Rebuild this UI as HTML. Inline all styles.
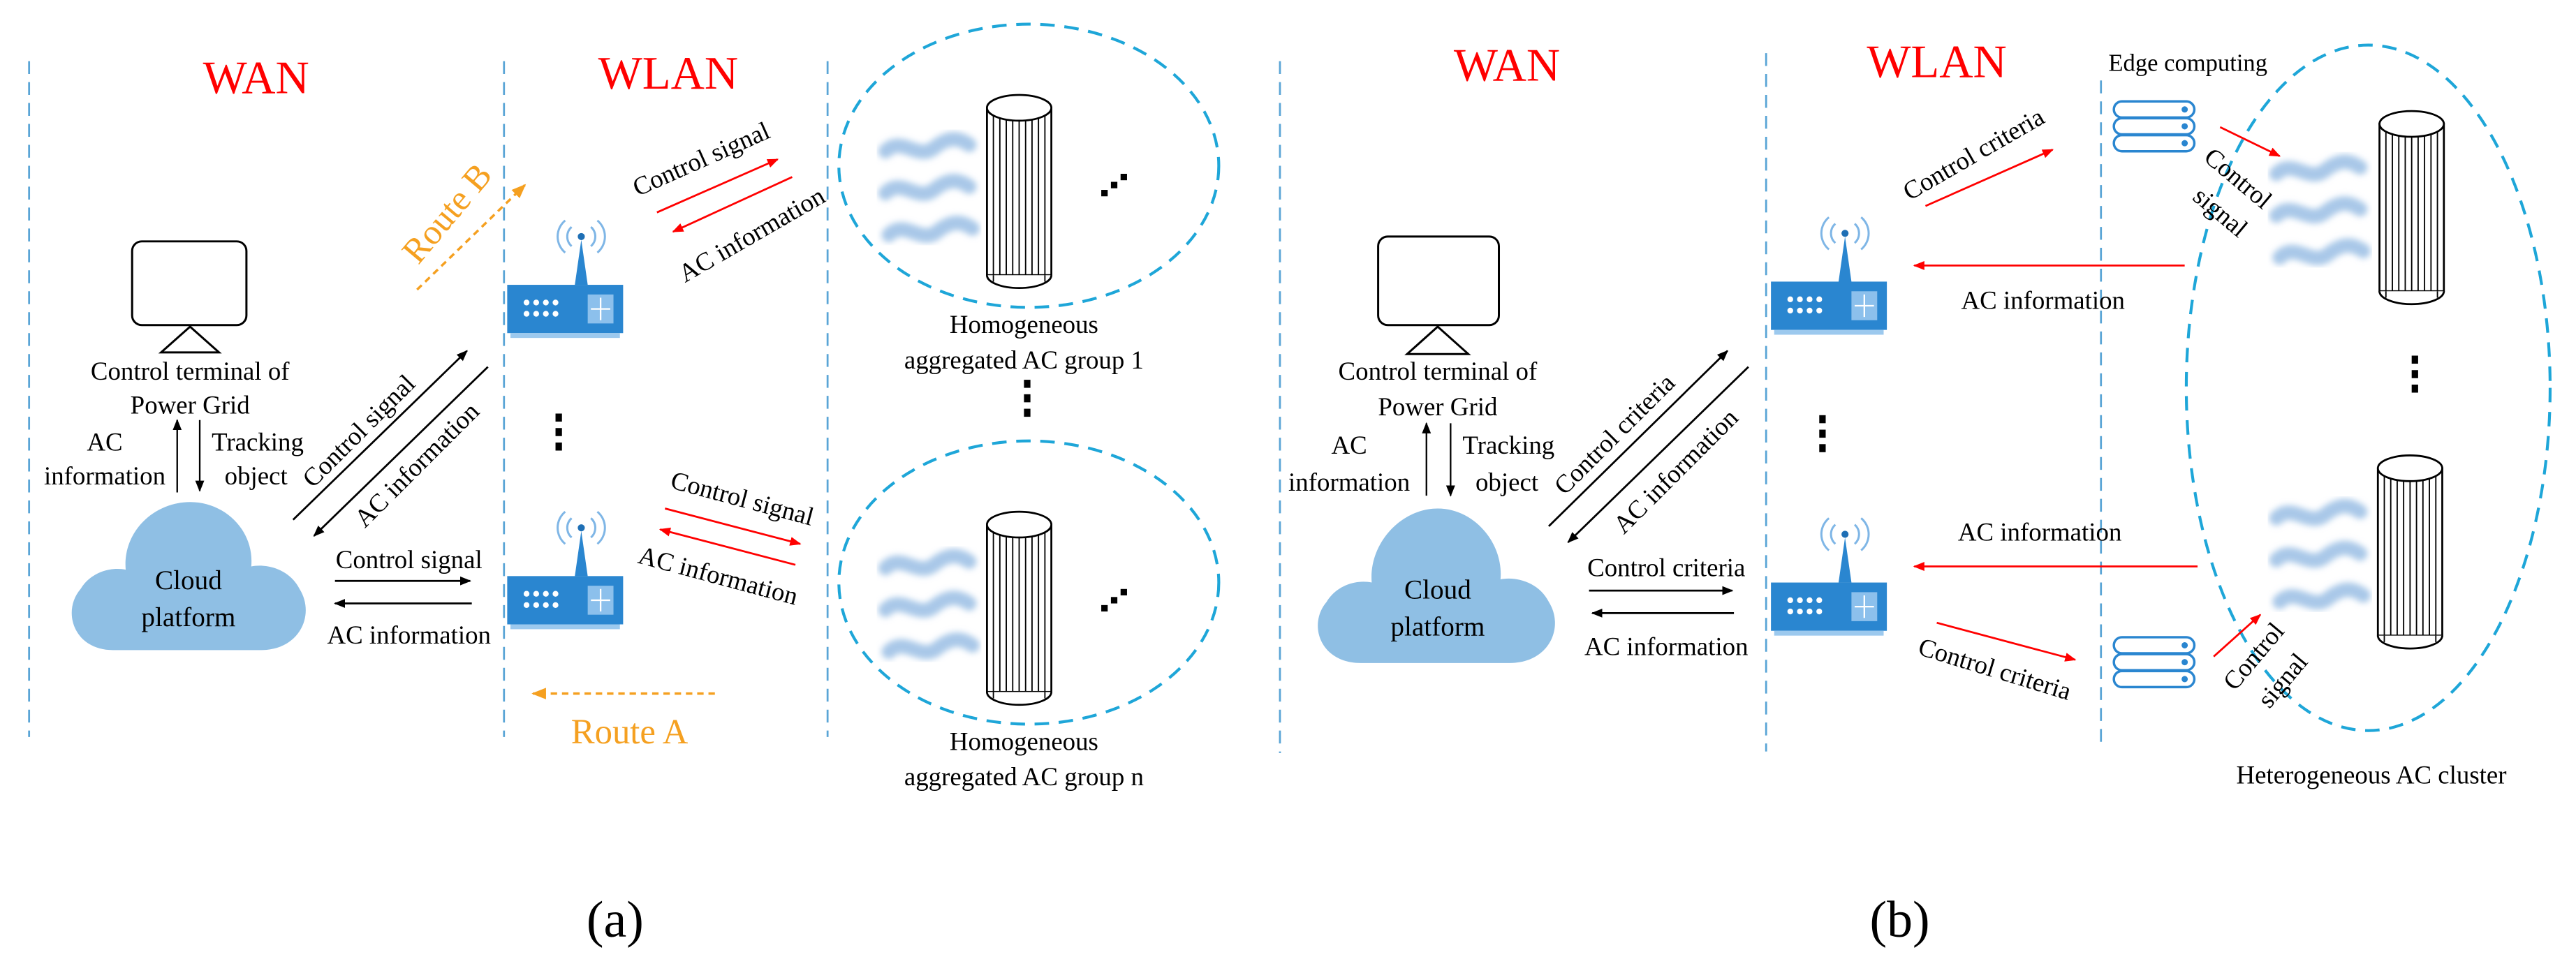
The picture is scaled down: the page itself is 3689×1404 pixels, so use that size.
<!DOCTYPE html>
<html><head><meta charset="utf-8"><style>
html,body{margin:0;padding:0;background:#fff;}
svg{display:block;}
svg text{font-family:'Liberation Serif','Times New Roman',serif !important;}
</style></head><body>
<svg width="3689" height="1404" viewBox="0 0 1600 609" xmlns="http://www.w3.org/2000/svg" font-family="Liberation Serif, serif" style="font-family:'Liberation Serif',serif">
<defs>
<marker id="mk" viewBox="0 0 10 10" refX="9" refY="5" markerWidth="7" markerHeight="7" orient="auto" markerUnits="userSpaceOnUse"><path d="M0,1 L10,5 L0,9 z" fill="#000"/></marker>
<marker id="mr" viewBox="0 0 10 10" refX="9" refY="5" markerWidth="7" markerHeight="7" orient="auto" markerUnits="userSpaceOnUse"><path d="M0,1 L10,5 L0,9 z" fill="#f00"/></marker>
<marker id="mo" viewBox="0 0 10 10" refX="9" refY="5" markerWidth="9" markerHeight="9" orient="auto" markerUnits="userSpaceOnUse"><path d="M0,1 L10,5 L0,9 z" fill="#f5a020"/></marker>
<filter id="bl"><feGaussianBlur stdDeviation="2"/></filter>
<g id="router">
  <path d="M42,0 L46,-28 L50,0 z" fill="#2a86d0"/>
  <circle cx="46" cy="-30" r="2.2" fill="#1e6fb5"/>
  <path d="M40,-36 a8,8 0 0 0 0,12 M52,-36 a8,8 0 0 1 0,12 M36,-40 a13,13 0 0 0 0,20 M56,-40 a13,13 0 0 1 0,20" fill="none" stroke="#7fb6e6" stroke-width="1.3"/>
  <rect x="0" y="0" width="72" height="30" fill="#2a86d0"/>
  <rect x="2" y="30" width="68" height="3" fill="#9cc9ee"/>
  <g fill="#fff"><circle cx="12" cy="11" r="1.8"/><circle cx="18" cy="11" r="1.8"/><circle cx="24" cy="11" r="1.8"/><circle cx="30" cy="11" r="1.8"/><circle cx="12" cy="18" r="1.8"/><circle cx="18" cy="18" r="1.8"/><circle cx="24" cy="18" r="1.8"/><circle cx="30" cy="18" r="1.8"/></g>
  <rect x="50" y="6" width="16" height="18" fill="#8cc0ec"/>
  <path d="M58,8 v14 M52,15 h12" stroke="#fff" stroke-width="1"/>
</g>
<g id="cyl">
  <rect x="0" y="8" width="40" height="104" fill="#fff" stroke="#000" stroke-width="1.2"/>
  <g stroke="#000" stroke-width="0.8"><path d="M4,12V116 M8,14V118 M12,15V119 M16,16V120 M20,16V120 M24,16V120 M28,15V119 M32,14V118 M36,12V116"/></g>
  <path d="M0,112 a20,8 0 0 0 40,0" fill="#fff" stroke="#000" stroke-width="1.2"/>
  <g stroke="#000" stroke-width="0.8"><path d="M4,112V116 M36,112V116"/></g>
  <ellipse cx="20" cy="8" rx="20" ry="8" fill="#fff" stroke="#000" stroke-width="1.2"/>
</g>
<g id="waves" filter="url(#bl)" fill="none" stroke="#a9c8e8" stroke-width="9" stroke-linecap="round">
  <path d="M4,12 C14,2 24,18 34,10 S50,4 56,8"/>
  <path d="M4,38 C14,28 24,44 34,36 S50,30 56,34"/>
  <path d="M6,64 C16,54 26,70 36,62 S52,56 58,60"/>
</g>
<g id="server" fill="#fff" stroke="#2a86d0" stroke-width="1.5">
  <rect x="0" y="0" width="50" height="10" rx="5"/><rect x="0" y="10.5" width="50" height="10" rx="5"/><rect x="0" y="21" width="50" height="10" rx="5"/>
  <circle cx="44" cy="5" r="1.2" fill="#2a86d0"/><circle cx="44" cy="15.5" r="1.2" fill="#2a86d0"/><circle cx="44" cy="26" r="1.2" fill="#2a86d0"/>
</g>
</defs>

<g stroke="#5aa5d6" stroke-width="1.2" stroke-dasharray="8,5">
<line x1="18" y1="38" x2="18" y2="458"/><line x1="313" y1="38" x2="313" y2="458"/><line x1="514" y1="38" x2="514" y2="458"/><line x1="795" y1="38" x2="795" y2="468"/>
<line x1="1097" y1="33" x2="1097" y2="467"/><line x1="1305" y1="50" x2="1305" y2="465"/>
</g>

<g font-size="29" fill="#f00" text-anchor="middle"><text x="159" y="58">WAN</text><text x="415" y="55">WLAN</text><text x="936" y="50">WAN</text><text x="1203" y="48">WLAN</text></g>

<rect x="82" y="150" width="71" height="52" rx="6" fill="#fff" stroke="#000" stroke-width="1.3"/>
<path d="M118,203 L100,219 L136,219 z" fill="#fff" stroke="#000" stroke-width="1.3"/>
<g font-size="16" text-anchor="middle">
<text x="118" y="236">Control terminal of</text><text x="118" y="257">Power Grid</text>
<text x="65" y="280">AC</text><text x="65" y="301">information</text>
<text x="160" y="280">Tracking</text><text x="159" y="301">object</text>
</g>
<line x1="110" y1="306" x2="110" y2="261" stroke="#000" marker-end="url(#mk)"/>
<line x1="124" y1="261" x2="124" y2="305" stroke="#000" marker-end="url(#mk)"/>
<path d="M70,404 C46,404 38,380 50,366 C56,356 68,352 78,354 C76,330 96,312 118,312 C140,312 158,330 156,352 C166,350 180,354 186,366 C196,382 186,404 162,404 Z" fill="#8fbfe4"/>
<g font-size="17" text-anchor="middle"><text x="117" y="366">Cloud</text><text x="117" y="389">platform</text></g>

<line x1="182" y1="323" x2="290" y2="218" stroke="#000" stroke-width="1.2" marker-end="url(#mk)"/>
<line x1="303" y1="228" x2="195" y2="333" stroke="#000" stroke-width="1.2" marker-end="url(#mk)"/>
<g font-size="16" text-anchor="middle">
<text transform="rotate(-45 223 268)" x="223" y="273">Control signal</text>
<text transform="rotate(-45 259 289)" x="259" y="294">AC information</text>
<text x="254" y="353">Control signal</text><text x="254" y="400">AC information</text>
</g>
<line x1="208" y1="361" x2="292" y2="361" stroke="#000" stroke-width="1.2" marker-end="url(#mk)"/>
<line x1="293" y1="375" x2="208" y2="375" stroke="#000" stroke-width="1.2" marker-end="url(#mk)"/>

<use href="#router" x="315" y="177"/>
<use href="#router" x="315" y="358"/>
<g fill="#000"><rect x="345" y="257" width="4" height="5"/><rect x="345" y="266" width="4" height="5"/><rect x="345" y="275" width="4" height="5"/></g>

<line x1="259" y1="180" x2="326" y2="115" stroke="#f5a020" stroke-width="1.5" stroke-dasharray="4,3" marker-end="url(#mo)"/>
<text transform="rotate(-50 277 132)" x="277" y="140" font-size="22" fill="#f5a020" text-anchor="middle">Route B</text>
<line x1="444" y1="431" x2="331" y2="431" stroke="#f5a020" stroke-width="1.5" stroke-dasharray="4,3" marker-end="url(#mo)"/>
<text x="391" y="462" font-size="22" fill="#f5a020" text-anchor="middle">Route A</text>

<line x1="408" y1="132" x2="483" y2="99" stroke="#f00" stroke-width="1.2" marker-end="url(#mr)"/>
<line x1="492" y1="110" x2="418" y2="144" stroke="#f00" stroke-width="1.2" marker-end="url(#mr)"/>
<line x1="413" y1="316" x2="497" y2="338" stroke="#f00" stroke-width="1.2" marker-end="url(#mr)"/>
<line x1="494" y1="351" x2="410" y2="329" stroke="#f00" stroke-width="1.2" marker-end="url(#mr)"/>
<g font-size="16" text-anchor="middle">
<text transform="rotate(-24 436 100)" x="436" y="104">Control signal</text>
<text transform="rotate(-30 467 146)" x="467" y="151">AC information</text>
<text transform="rotate(15 461 310)" x="461" y="315">Control signal</text>
<text transform="rotate(15 446 358)" x="446" y="363">AC information</text>
</g>

<g fill="none" stroke="#1ea6d8" stroke-width="1.8" stroke-dasharray="9,6">
<ellipse cx="639" cy="103" rx="118" ry="88"/><ellipse cx="639" cy="362" rx="118" ry="88"/>
<ellipse cx="1471" cy="241" rx="113" ry="213"/>
</g>
<use href="#waves" x="546" y="82"/>
<use href="#waves" x="546" y="341"/>
<use href="#cyl" x="613" y="59"/>
<use href="#cyl" x="613" y="318"/>
<g fill="#000">
<rect x="684" y="118" width="4" height="4"/><rect x="690" y="113" width="4" height="4"/><rect x="696" y="108" width="4" height="4"/>
<rect x="684" y="376" width="4" height="4"/><rect x="690" y="371" width="4" height="4"/><rect x="696" y="366" width="4" height="4"/>
<rect x="636" y="236" width="4" height="5"/><rect x="636" y="245" width="4" height="5"/><rect x="636" y="254" width="4" height="5"/>
</g>
<g font-size="16" text-anchor="middle">
<text x="636" y="207">Homogeneous</text><text x="636" y="229">aggregated AC group 1</text>
<text x="636" y="466">Homogeneous</text><text x="636" y="488">aggregated AC group n</text>
</g>
<text x="382" y="582" font-size="32" text-anchor="middle">(a)</text>

<rect x="856" y="147" width="75" height="55" rx="6" fill="#fff" stroke="#000" stroke-width="1.3"/>
<path d="M893,203 L874,220 L912,220 z" fill="#fff" stroke="#000" stroke-width="1.3"/>
<g font-size="16" text-anchor="middle">
<text x="893" y="236">Control terminal of</text><text x="893" y="258">Power Grid</text>
<text x="838" y="282">AC</text><text x="838" y="305">information</text>
<text x="937" y="282">Tracking</text><text x="936" y="305">object</text>
</g>
<line x1="886" y1="308" x2="886" y2="263" stroke="#000" marker-end="url(#mk)"/>
<line x1="901" y1="263" x2="901" y2="308" stroke="#000" marker-end="url(#mk)"/>
<path d="M845,412 C820,412 812,388 824,374 C830,364 842,360 852,362 C850,338 870,316 893,316 C916,316 934,338 932,360 C942,358 956,362 962,374 C972,390 962,412 938,412 Z" fill="#8fbfe4"/>
<g font-size="17" text-anchor="middle"><text x="893" y="372">Cloud</text><text x="893" y="395">platform</text></g>

<line x1="962" y1="327" x2="1073" y2="218" stroke="#000" stroke-width="1.2" marker-end="url(#mk)"/>
<line x1="1086" y1="228" x2="974" y2="337" stroke="#000" stroke-width="1.2" marker-end="url(#mk)"/>
<g font-size="16" text-anchor="middle">
<text transform="rotate(-45 1003 270)" x="1003" y="275">Control criteria</text>
<text transform="rotate(-45 1041 293)" x="1041" y="298">AC information</text>
<text x="1035" y="358">Control criteria</text><text x="1035" y="407">AC information</text>
</g>
<line x1="987" y1="367" x2="1076" y2="367" stroke="#000" stroke-width="1.2" marker-end="url(#mk)"/>
<line x1="1077" y1="381" x2="989" y2="381" stroke="#000" stroke-width="1.2" marker-end="url(#mk)"/>

<use href="#router" x="1100" y="175"/>
<use href="#router" x="1100" y="362"/>
<g fill="#000"><rect x="1130" y="258" width="4" height="5"/><rect x="1130" y="267" width="4" height="5"/><rect x="1130" y="276" width="4" height="5"/></g>

<text x="1359" y="44" font-size="15" text-anchor="middle">Edge computing</text>
<use href="#server" x="1313" y="63"/>
<use href="#server" x="1313" y="396"/>

<line x1="1196" y1="128" x2="1275" y2="93" stroke="#f00" stroke-width="1.2" marker-end="url(#mr)"/>
<line x1="1357" y1="165" x2="1189" y2="165" stroke="#f00" stroke-width="1.2" marker-end="url(#mr)"/>
<line x1="1365" y1="352" x2="1189" y2="352" stroke="#f00" stroke-width="1.2" marker-end="url(#mr)"/>
<line x1="1203" y1="387" x2="1289" y2="410" stroke="#f00" stroke-width="1.2" marker-end="url(#mr)"/>
<line x1="1379" y1="79" x2="1416" y2="97" stroke="#f00" stroke-width="1.2" marker-end="url(#mr)"/>
<line x1="1375" y1="408" x2="1404" y2="382" stroke="#f00" stroke-width="1.2" marker-end="url(#mr)"/>
<g font-size="16" text-anchor="middle">
<text transform="rotate(-30 1226 96)" x="1226" y="101">Control criteria</text>
<text x="1269" y="192">AC information</text>
<text x="1267" y="336">AC information</text>
<text transform="rotate(17 1239 416)" x="1239" y="421">Control criteria</text>
<text transform="rotate(40 1390 111)" x="1390" y="116">Control</text>
<text transform="rotate(40 1379 132)" x="1379" y="137">signal</text>
<text transform="rotate(-50 1400 408)" x="1400" y="413">Control</text>
<text transform="rotate(-50 1418 423)" x="1418" y="428">signal</text>
</g>

<use href="#waves" x="1410" y="96"/>
<use href="#waves" x="1410" y="310"/>
<use href="#cyl" x="1478" y="69"/>
<use href="#cyl" x="1477" y="283"/>
<g fill="#000"><rect x="1498" y="221" width="4" height="5"/><rect x="1498" y="230" width="4" height="5"/><rect x="1498" y="239" width="4" height="5"/></g>
<text x="1473" y="487" font-size="16" text-anchor="middle">Heterogeneous AC cluster</text>
<text x="1180" y="582" font-size="32" text-anchor="middle">(b)</text>
</svg>
</body></html>
